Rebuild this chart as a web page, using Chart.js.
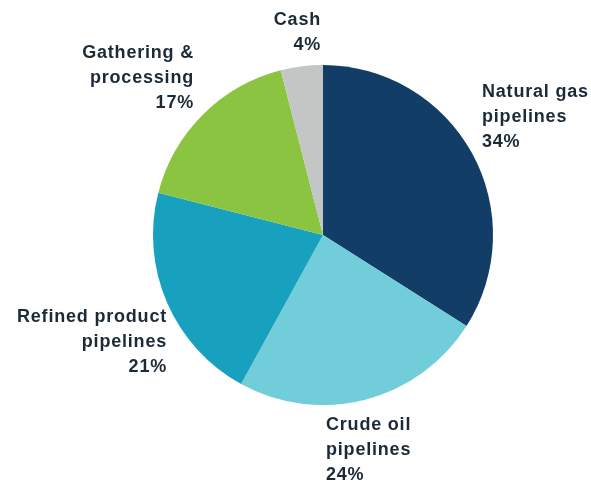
<!DOCTYPE html>
<html>
<head>
<meta charset="utf-8">
<script src="https://cdn.jsdelivr.net/npm/chart.js@4"></script>
<style>
  html, body { margin: 0; padding: 0; background: #fff; }
  #wrap { width: 591px; height: 484px; position: relative; }
</style>
</head>
<body>
<div id="wrap"><canvas id="pie"></canvas></div>
<script>
const segments = ['Natural gas pipelines', 'Crude oil pipelines', 'Refined product pipelines', 'Gathering & processing', 'Cash'];
const shares = [34, 24, 21, 17, 4];
const sliceColors = ['#123d66', '#72cdda', '#18a1be', '#8bc441', '#c4c6c6'];

// text lines for each slice label (the percentage is appended from shares)
const labelLines = [
  ['Natural gas', 'pipelines'],
  ['Crude oil', 'pipelines'],
  ['Refined product', 'pipelines'],
  ['Gathering &', 'processing'],
  ['Cash']
];
// where each label block sits: x, first baseline y, alignment
const labelPlacement = [
  { x: 482, y: 97, align: 'left' },
  { x: 326, y: 430, align: 'left' },
  { x: 167, y: 322, align: 'right' },
  { x: 194, y: 58, align: 'right' },
  { x: 321, y: 25, align: 'right' }
];

const LINE_H = 25;

const sliceLabels = {
  id: 'sliceLabels',
  afterDraw(chart) {
    const ctx = chart.ctx;
    ctx.save();
    ctx.fillStyle = '#1c2a38';
    ctx.font = 'bold 18px "Liberation Sans", Arial, sans-serif';
    ctx.letterSpacing = '0.8px';
    ctx.textBaseline = 'alphabetic';
    chart.data.datasets[0].data.forEach((v, i) => {
      const p = labelPlacement[i];
      const lines = labelLines[i].concat([v + '%']);
      ctx.textAlign = p.align;
      lines.forEach((t, k) => ctx.fillText(t, p.x, p.y + k * LINE_H));
    });
    ctx.restore();
  }
};

new Chart(document.getElementById('pie'), {
  type: 'pie',
  data: {
    labels: segments,
    datasets: [{
      data: shares,
      backgroundColor: sliceColors,
      borderWidth: 0
    }]
  },
  options: {
    responsive: true,
    maintainAspectRatio: false,
    animation: false,
    layout: { padding: { top: 65, bottom: 79, left: 153, right: 98 } },
    plugins: {
      legend: { display: false },
      tooltip: { enabled: false }
    }
  },
  plugins: [sliceLabels]
});
</script>
</body>
</html>
